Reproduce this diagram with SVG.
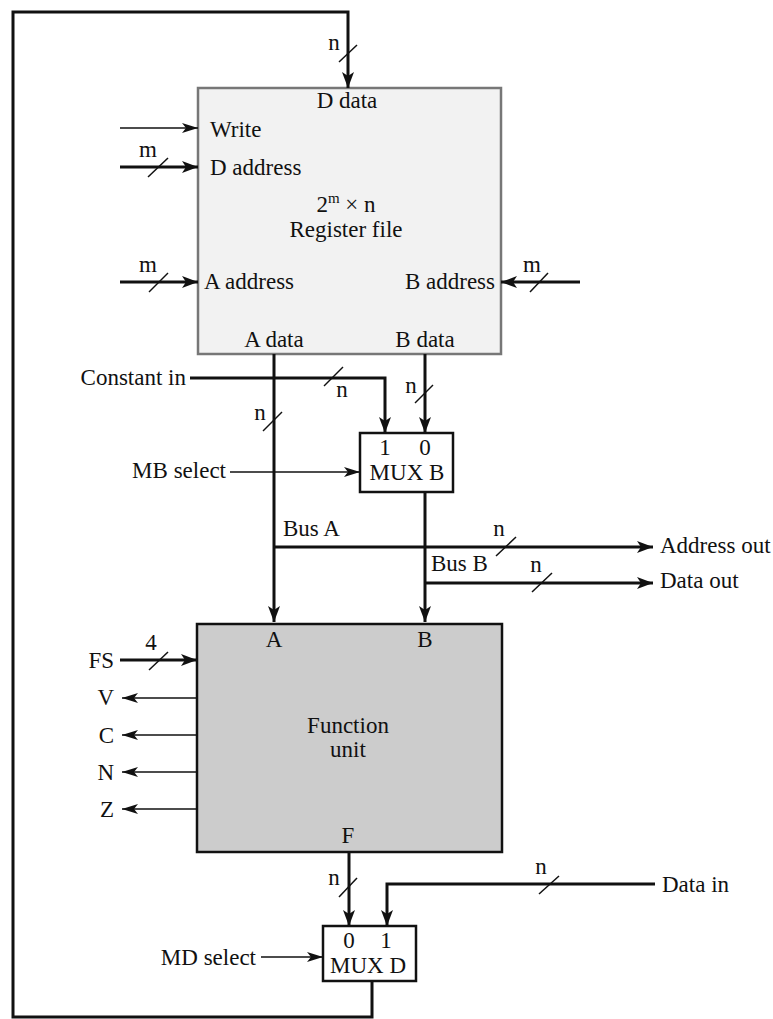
<svg xmlns="http://www.w3.org/2000/svg" width="773" height="1019" viewBox="0 0 773 1019">
<style>
text{font-family:"Liberation Serif","Times New Roman",serif;font-size:23px;fill:#111}
.m{text-anchor:middle}.e{text-anchor:end}
.sup{font-size:15px}
.bus{fill:none;stroke:#111;stroke-width:3}
.sig{fill:none;stroke:#111;stroke-width:1.6}
.sl{stroke:#111;stroke-width:1.5}
.ab{marker-end:url(#ah)}
.as{marker-end:url(#ahs)}
</style>
<defs>
<marker id="ah" markerUnits="userSpaceOnUse" markerWidth="16" markerHeight="12" refX="16" refY="6" orient="auto"><path d="M0,0 L16,6 L0,12 L4,6 z" fill="#111"/></marker>
<marker id="ahs" markerUnits="userSpaceOnUse" markerWidth="16" markerHeight="10" refX="16" refY="5" orient="auto"><path d="M0,0 L16,5 L0,10 L4,5 z" fill="#111"/></marker>
</defs>

<g id="regfile">
<rect x="198" y="88" width="303" height="266" fill="#f2f2f2" stroke="#777" stroke-width="2.5"/>
<text class="m" x="347" y="108">D data</text>
<text x="210" y="137">Write</text>
<text x="210" y="175">D address</text>
<text class="m" x="346" y="212">2<tspan class="sup" dy="-9">m</tspan><tspan dy="9"> × n</tspan></text>
<text class="m" x="346" y="237">Register file</text>
<text x="204" y="289">A address</text>
<text class="e" x="495" y="289">B address</text>
<text class="m" x="274" y="347">A data</text>
<text class="m" x="425" y="347">B data</text>
</g>

<g id="muxb">
<rect x="360" y="433" width="93" height="59" fill="#fff" stroke="#111" stroke-width="2.5"/>
<text class="m" x="385" y="455">1</text>
<text class="m" x="425" y="455">0</text>
<text class="m" x="407" y="480">MUX B</text>
</g>

<g id="funit">
<rect x="197" y="624" width="305" height="228" fill="#cccccc" stroke="#111" stroke-width="2.5"/>
<text class="m" x="274" y="647">A</text>
<text class="m" x="425" y="647">B</text>
<text class="m" x="348" y="733">Function</text>
<text class="m" x="348" y="757">unit</text>
<text class="m" x="348" y="843">F</text>
</g>

<g id="muxd">
<rect x="323" y="926" width="93" height="55" fill="#fff" stroke="#111" stroke-width="2.5"/>
<text class="m" x="349" y="948">0</text>
<text class="m" x="386" y="948">1</text>
<text class="m" x="368" y="973">MUX D</text>
</g>

<g id="labels">
<text class="e" x="186" y="385">Constant in</text>
<text class="e" x="226" y="478">MB select</text>
<text x="283" y="536">Bus A</text>
<text x="431" y="571">Bus B</text>
<text x="660" y="553">Address out</text>
<text x="660" y="588">Data out</text>
<text class="e" x="114" y="668">FS</text>
<text class="e" x="114" y="705">V</text>
<text class="e" x="114" y="743">C</text>
<text class="e" x="114" y="780">N</text>
<text class="e" x="114" y="817">Z</text>
<text x="662" y="892">Data in</text>
<text class="e" x="256" y="965">MD select</text>
<text class="m" x="334" y="50">n</text>
<text class="m" x="148" y="157">m</text>
<text class="m" x="148" y="272">m</text>
<text class="m" x="532" y="272">m</text>
<text class="m" x="342" y="397">n</text>
<text class="m" x="411" y="393">n</text>
<text class="m" x="260" y="420">n</text>
<text class="m" x="499" y="536">n</text>
<text class="m" x="536" y="572">n</text>
<text class="m" x="151" y="650">4</text>
<text class="m" x="334" y="885">n</text>
<text class="m" x="541" y="874">n</text>
</g>

<g id="connectors">
<path class="bus ab" d="M372,981 V1017 H13 V12 H348 V88"/>
<path class="sig as" d="M120,128 H198"/>
<path class="bus ab" d="M120,167 H198"/>
<path class="bus ab" d="M120,282 H198"/>
<path class="bus ab" d="M580,282 H501"/>
<path class="bus ab" d="M274,354 V622"/>
<path class="bus ab" d="M425,354 V433"/>
<path class="bus ab" d="M190,378 H385 V433"/>
<path class="sig as" d="M230,472 H360"/>
<path class="bus ab" d="M425,492 V622"/>
<path class="bus ab" d="M274,547 H653"/>
<path class="bus ab" d="M425,583 H653"/>
<path class="bus ab" d="M120,660 H197"/>
<path class="sig as" d="M197,698 H122"/>
<path class="sig as" d="M197,735 H122"/>
<path class="sig as" d="M197,772 H122"/>
<path class="sig as" d="M197,809 H122"/>
<path class="bus ab" d="M349,852 V926"/>
<path class="bus ab" d="M655,884 H387 V926"/>
<path class="sig as" d="M261,957 H323"/>
<line class="sl" x1="339" y1="62" x2="357" y2="45"/>
<line class="sl" x1="148" y1="177" x2="168" y2="158"/>
<line class="sl" x1="149" y1="292" x2="168" y2="273"/>
<line class="sl" x1="530" y1="292" x2="548" y2="273"/>
<line class="sl" x1="324" y1="386" x2="343" y2="367"/>
<line class="sl" x1="415" y1="403" x2="433" y2="385"/>
<line class="sl" x1="263" y1="431" x2="282" y2="412"/>
<line class="sl" x1="496" y1="556" x2="516" y2="537"/>
<line class="sl" x1="532" y1="592" x2="552" y2="573"/>
<line class="sl" x1="149" y1="670" x2="168" y2="652"/>
<line class="sl" x1="339" y1="897" x2="357" y2="878"/>
<line class="sl" x1="539" y1="894" x2="559" y2="876"/>
</g>
</svg>
